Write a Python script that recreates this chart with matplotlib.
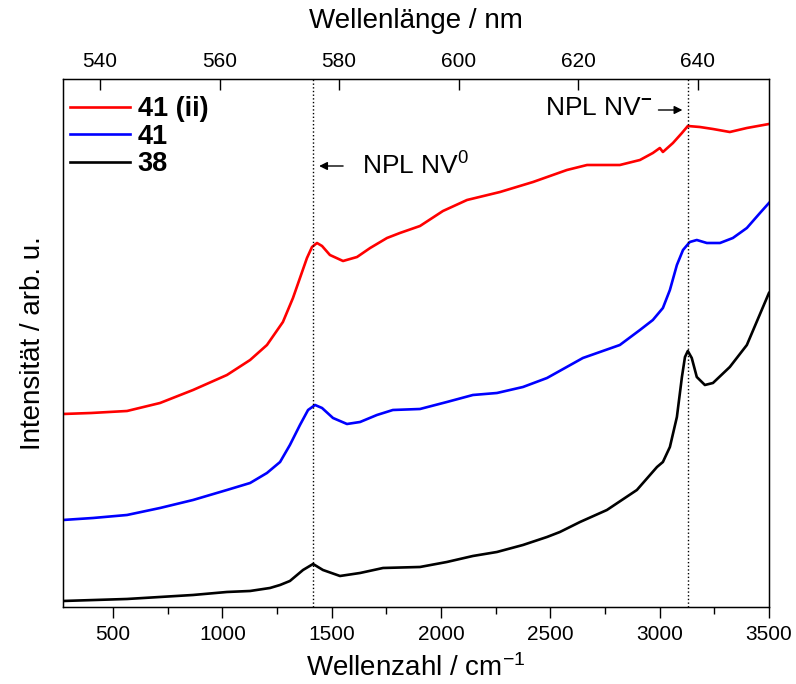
import matplotlib
matplotlib.use("Agg")
import matplotlib.pyplot as plt
from matplotlib.ticker import MultipleLocator

plt.rcParams['font.family'] = ['Liberation Sans', 'DejaVu Sans']
plt.rcParams['mathtext.fontset'] = 'custom'
plt.rcParams['mathtext.rm'] = 'Liberation Sans'
plt.rcParams['mathtext.it'] = 'Liberation Sans'
plt.rcParams['mathtext.bf'] = 'Liberation Sans:bold'

# Daten (Wellenzahl / cm^-1, Intensität in willk. Einheiten)
wn_41ii = [271, 400, 564, 715, 866, 1021, 1127, 1204, 1277, 1323, 1355, 1387, 1410, 1433,
           1456, 1492, 1552, 1616, 1676, 1753, 1812, 1904, 2009, 2119, 2270, 2421,
           2576, 2668, 2727, 2818, 2910, 2969, 3001, 3015, 3061, 3102, 3129, 3184,
           3244, 3321, 3399, 3500]
int_41ii = [193, 194, 196, 204, 217, 232, 247, 262, 285, 309, 329, 349, 360, 364,
            361, 352, 346, 350, 359, 369, 374, 381, 396, 407, 415, 425,
            437, 442, 442, 442, 447, 454, 459, 455, 464, 474, 481, 480,
            478, 475, 479, 483]

wn_41 = [271, 409, 564, 715, 866, 1021, 1127, 1204, 1264, 1309, 1355, 1392, 1424, 1456,
         1506, 1570, 1630, 1707, 1780, 1904, 2027, 2146, 2256, 2375, 2485, 2649,
         2818, 2910, 2969, 3015, 3047, 3079, 3107, 3138, 3170, 3216, 3276, 3335,
         3399, 3459, 3500]
int_41 = [87, 89, 92, 99, 107, 117, 124, 134, 145, 162, 182, 197, 202, 199,
          189, 183, 185, 192, 197, 198, 205, 212, 214, 220, 229, 249,
          262, 277, 287, 299, 317, 342, 357, 365, 367, 364, 364, 369,
          379, 394, 404]

wn_38 = [271, 564, 866, 1021, 1127, 1218, 1264, 1309, 1369, 1415, 1460, 1538, 1630,
         1735, 1904, 2027, 2146, 2256, 2375, 2485, 2544, 2636, 2759, 2896, 2988,
         3015, 3047, 3079, 3102, 3116, 3129, 3147, 3170, 3207, 3244, 3321, 3399, 3500]
int_38 = [6, 8, 12, 15, 16, 19, 22, 26, 37, 43, 37, 31, 34,
          39, 40, 45, 51, 55, 62, 70, 75, 85, 97, 117, 140,
          145, 160, 190, 230, 250, 256, 249, 230, 222, 224, 240, 262, 314]

labels = ['41 (ii)', '41', '38']
colors = ['red', 'blue', 'black']
npl_nv0 = 1415
npl_nvm = 3132

fig = plt.figure(figsize=(7.96, 6.84), dpi=100)
ax = fig.add_axes([0.0791, 0.1126, 0.8869, 0.7719])

ax.plot(wn_41ii, int_41ii, color=colors[0], lw=1.9, label=labels[0])
ax.plot(wn_41, int_41, color=colors[1], lw=1.9, label=labels[1])
ax.plot(wn_38, int_38, color=colors[2], lw=1.9, label=labels[2])

ax.axvline(npl_nv0, color='black', ls=':', lw=1)
ax.axvline(npl_nvm, color='black', ls=':', lw=1)

ax.set_xlim(271, 3500)
ax.set_ylim(0, 528)
ax.set_yticks([])
ax.xaxis.set_major_locator(MultipleLocator(500))
ax.xaxis.set_minor_locator(MultipleLocator(250))
ax.tick_params(axis='x', which='major', direction='out', length=8, width=1, labelsize=15, pad=5)
ax.tick_params(axis='x', which='minor', direction='out', length=5, width=1)
for s in ax.spines.values():
    s.set_linewidth(1)

ax.set_xlabel('Wellenzahl / cm$^{-1}$', fontsize=20, labelpad=7)
ax.set_ylabel('Intensität / arb. u.', fontsize=20, labelpad=12)

# obere Achse: Wellenlänge
ax2 = ax.twiny()
ax2.set_xlim(533.8, 651.9)
ax2.set_xticks([540, 560, 580, 600, 620, 640])
ax2.tick_params(axis='x', direction='in', length=8, width=1, labelsize=15, pad=6)
ax2.set_xlabel('Wellenlänge / nm', fontsize=20, labelpad=17)

leg = ax.legend(loc='upper left', frameon=False, prop={'weight': 'bold', 'size': 19.5},
                handlelength=2.2, handletextpad=0.3, labelspacing=0.05,
                borderaxespad=0, borderpad=0, bbox_to_anchor=(0.01, 0.967))

# Beschriftungen
ax.annotate('', xy=(npl_nv0 + 15, 441), xytext=(npl_nv0 + 150, 441),
            arrowprops=dict(arrowstyle='-|>', color='black', lw=1, mutation_scale=12))
ax.text(npl_nv0 + 225, 441, 'NPL NV$^0$', fontsize=19, va='center', ha='left')

ax.annotate('', xy=(npl_nvm - 15, 497), xytext=(npl_nvm - 150, 497),
            arrowprops=dict(arrowstyle='-|>', color='black', lw=1, mutation_scale=12))
ax.text(npl_nvm - 165, 499, 'NPL NV$^{\\mathbf{-}}$', fontsize=19, va='center', ha='right')

fig.savefig('out.png', dpi=100)
